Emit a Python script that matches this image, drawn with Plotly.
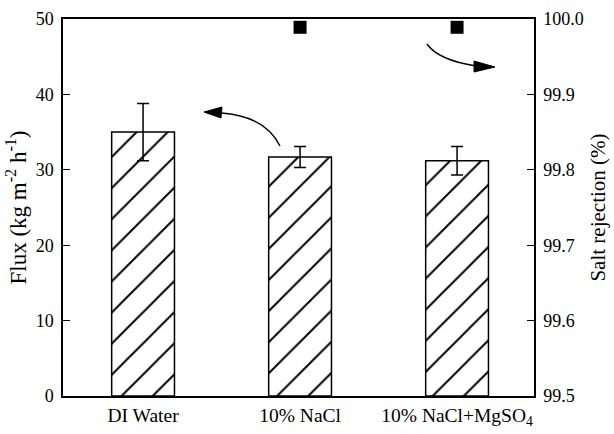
import plotly.graph_objects as go

categories = ["DI Water", "10% NaCl", "10% NaCl+MgSO<sub>4</sub>"]
flux = [35.0, 31.7, 31.2]
flux_err = [3.8, 1.4, 1.9]
rej_categories = ["10% NaCl", "10% NaCl+MgSO<sub>4</sub>"]
rejection = [99.989, 99.989]

FONT = "Liberation Serif"

fig = go.Figure()
fig.add_trace(go.Bar(
    x=categories, y=flux, width=0.4,
    marker=dict(color="white", line=dict(color="black", width=1.5),
                pattern=dict(shape="/", size=22, solidity=0.09, fgcolor="black", bgcolor="white", fgopacity=1)),
    error_y=dict(type="data", array=flux_err, color="black", thickness=1.5, width=6),
    showlegend=False,
))
fig.add_trace(go.Scatter(
    x=rej_categories, y=rejection, yaxis="y2", mode="markers",
    marker=dict(symbol="square", size=13, color="black"),
    showlegend=False, cliponaxis=False,
))

def px(x):
    return (x - 63) / 471

def py(y):
    return (396 - y) / 377

# curved arrows (paper coordinates)
left_curve = f"M {px(280)},{py(146)} Q {px(265)},{py(116)} {px(221)},{py(113)}"
left_head = f"M {px(204)},{py(112)} L {px(222)},{py(107)} L {px(221)},{py(118)} Z"
right_curve = f"M {px(427)},{py(44)} Q {px(438)},{py(60)} {px(476)},{py(66)}"
right_head = f"M {px(495)},{py(67)} L {px(474)},{py(61)} L {px(474)},{py(72)} Z"
shapes = [
    dict(type="path", xref="paper", yref="paper", path=left_curve, line=dict(color="black", width=1.4)),
    dict(type="path", xref="paper", yref="paper", path=left_head, line=dict(color="black", width=1), fillcolor="black"),
    dict(type="path", xref="paper", yref="paper", path=right_curve, line=dict(color="black", width=1.4)),
    dict(type="path", xref="paper", yref="paper", path=right_head, line=dict(color="black", width=1), fillcolor="black"),
]

fig.update_layout(
    width=614, height=434,
    margin=dict(l=63, r=80, t=19, b=38),
    paper_bgcolor="white", plot_bgcolor="white",
    font=dict(family=FONT, size=18, color="black"),
    shapes=shapes,
    xaxis=dict(range=[-0.51, 2.49], showline=True, linecolor="black", linewidth=1.5, mirror=True,
               ticks="", showgrid=False, tickfont=dict(size=19.5), zeroline=False, ticklabelstandoff=1,
               automargin=False),
    yaxis=dict(range=[0, 50], dtick=10, showline=True, linecolor="black", linewidth=1.5,
               ticks="inside", ticklen=7, tickwidth=1.3, tickcolor="black", showgrid=False, zeroline=False,
               tickfont=dict(size=18), automargin=False,
               title=dict(text="Flux (kg m<sup>-2</sup> h<sup>-1</sup>)", font=dict(size=23), standoff=3),
               ticklabelstandoff=4),
    yaxis2=dict(range=[99.5, 100.0], dtick=0.1, tickformat=".1f", overlaying="y", side="right",
                showline=True, linecolor="black", linewidth=1.5, ticks="inside", ticklen=7, tickwidth=1.3,
                tickcolor="black", showgrid=False, zeroline=False, tickfont=dict(size=18), automargin=False,
                title=dict(text="Salt rejection (%)", font=dict(size=21), standoff=7),
                ticklabelstandoff=4),
)

fig.write_html("out.html")
